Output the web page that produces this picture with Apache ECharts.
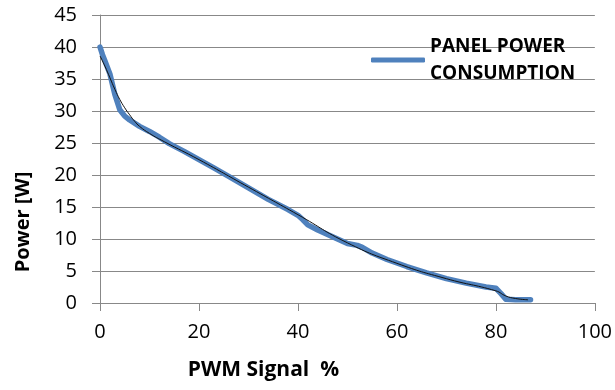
<!DOCTYPE html>
<html>
<head>
<meta charset="utf-8">
<script src="https://cdn.jsdelivr.net/npm/echarts@6/dist/echarts.min.js"></script>
<style>
  html, body { margin: 0; padding: 0; background: #fff; }
</style>
</head>
<body>
<div id="main" style="width: 615px; height: 390px"></div>
<script>
// measured power curve (PWM %, watts)
const pwm = [0, 0.5, 1, 2, 3, 4, 5, 6, 8, 10, 12, 14, 17, 20, 23, 26, 30, 34, 38, 40, 41, 42, 44, 46, 48, 50, 52, 53, 55, 58, 62, 66, 70, 74, 78, 80, 81, 82, 84, 87];
const power = [40, 38.8, 37.8, 35.8, 32.6, 30.2, 29.2, 28.6, 27.6, 26.8, 25.9, 24.9, 23.7, 22.4, 21.1, 19.8, 18.0, 16.2, 14.6, 13.7, 13.0, 12.2, 11.4, 10.7, 10.0, 9.3, 9.0, 8.7, 7.8, 6.8, 5.7, 4.7, 3.8, 3.1, 2.5, 2.3, 1.5, 0.6, 0.5, 0.5];

// thin trend line
const trendX = [0, 1, 2, 3, 4, 5, 6, 7, 8, 10, 13, 20, 30, 40, 50, 60, 70, 80, 82, 84, 86.5];
const trendY = [38.6, 37, 35.2, 33.4, 31.8, 30.5, 29.4, 28.4, 27.6, 26.5, 25.2, 22.4, 18.1, 13.8, 9.4, 6.2, 3.8, 1.9, 1.1, 0.7, 0.5];

const seriesName = "PANEL POWER CONSUMPTION";
const FONT = "Open Sans";

let myChart = echarts.init(document.getElementById("main"));
myChart.setOption({
  animation: false,
  grid: { left: 100, right: 15, top: 15, bottom: 87 },
  legend: {
    data: [seriesName],
    left: 366,
    top: 27,
    icon: "roundRect",
    itemWidth: 54,
    itemHeight: 5,
    itemGap: 8,
    formatter: () => "PANEL POWER\nCONSUMPTION",
    textStyle: {
      fontFamily: FONT,
      fontWeight: "bold",
      fontSize: 19,
      lineHeight: 27,
      color: "#000",
      padding: [2, 0, 0, 0],
    },
  },
  xAxis: {
    type: "value",
    min: 0,
    max: 100,
    interval: 20,
    name: "PWM Signal  %",
    nameLocation: "middle",
    nameGap: 57,
    nameTextStyle: {
      fontFamily: FONT, fontWeight: "bold", fontSize: 21, color: "#000",
      padding: [0, 168, 0, 0],
    },
    axisLine: { show: true, lineStyle: { color: "#888", width: 1 } },
    axisTick: { show: true, length: 8, lineStyle: { color: "#888" } },
    axisLabel: { fontFamily: FONT, fontSize: 20, color: "#000", margin: 19 },
    splitLine: { show: false },
  },
  yAxis: {
    type: "value",
    min: 0,
    max: 45,
    interval: 5,
    name: "Power [W]",
    nameLocation: "middle",
    nameGap: 67,
    nameRotate: 90,
    nameTextStyle: {
      fontFamily: FONT, fontWeight: "bold", fontSize: 20, color: "#000",
      padding: [0, 126, 0, 0],
    },
    axisLine: { show: true, lineStyle: { color: "#888", width: 1 } },
    axisTick: { show: true, length: 8, lineStyle: { color: "#888" } },
    axisLabel: { fontFamily: FONT, fontSize: 20, color: "#000", margin: 23 },
    splitLine: { show: true, lineStyle: { color: "#888", width: 1 } },
  },
  series: [
    {
      name: seriesName,
      type: "line",
      data: pwm.map((x, i) => [x, power[i]]),
      showSymbol: false,
      symbol: "none",
      itemStyle: { color: "#4F81BD" },
      lineStyle: { color: "#4F81BD", width: 5.5, cap: "round", join: "round" },
    },
    {
      name: "trend",
      type: "line",
      data: trendX.map((x, i) => [x, trendY[i]]),
      smooth: true,
      showSymbol: false,
      symbol: "none",
      lineStyle: { color: "#111", width: 1 },
    },
  ],
});
</script>
</body>
</html>
